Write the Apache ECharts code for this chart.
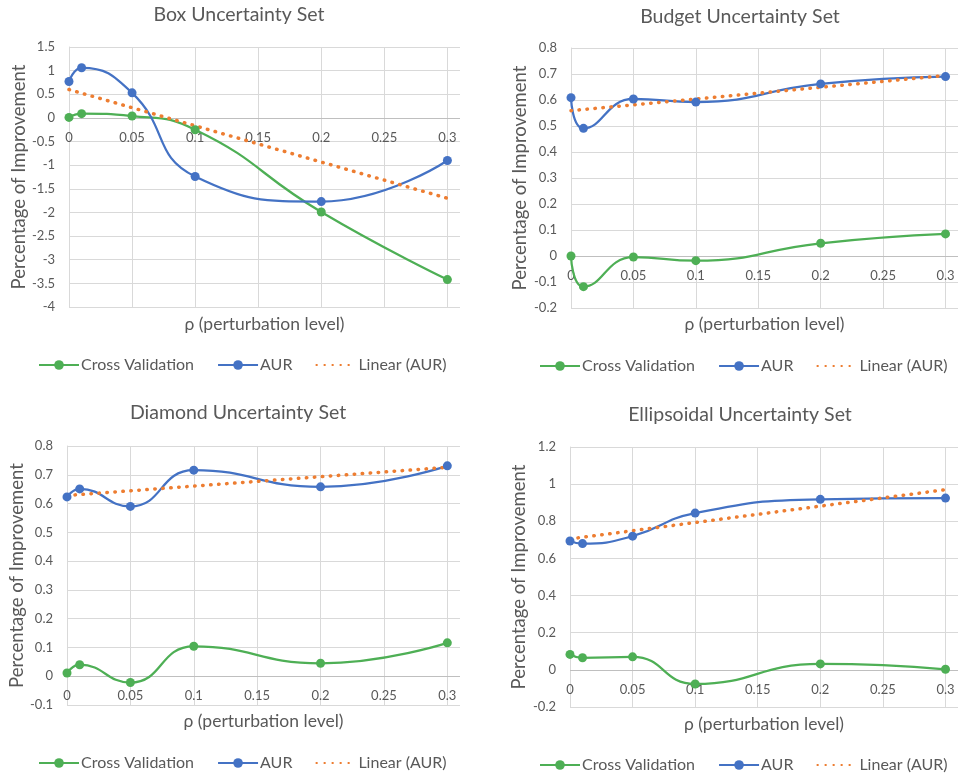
<!DOCTYPE html>
<html>
<head>
<meta charset="utf-8">
<script src="https://cdn.jsdelivr.net/npm/echarts@6/dist/echarts.min.js"></script>
<style>
  html, body { margin: 0; padding: 0; background: #ffffff; }
  #chart { width: 961px; height: 780px; }
</style>
</head>
<body>
<div id="chart"></div>
<script>
// ---- data ----
const rho = [0, 0.01, 0.05, 0.1, 0.2, 0.3];
const trendX = [0, 0.3];

const titles = ['Box Uncertainty Set', 'Budget Uncertainty Set', 'Diamond Uncertainty Set', 'Ellipsoidal Uncertainty Set'];
const seriesNames = ['Cross Validation', 'AUR', 'Linear (AUR)'];
const xName = 'ρ (perturbation level)';
const yName = 'Percentage of Improvement';

const boxCV = [0.01, 0.09, 0.04, -0.25, -1.99, -3.42];
const boxAUR = [0.77, 1.06, 0.53, -1.24, -1.77, -0.90];
const boxTrend = [0.60, -1.70];

const budgetCV = [0.0, -0.118, -0.004, -0.018, 0.049, 0.085];
const budgetAUR = [0.609, 0.491, 0.604, 0.592, 0.662, 0.690];
const budgetTrend = [0.559, 0.694];

const diamondCV = [0.011, 0.040, -0.022, 0.104, 0.045, 0.116];
const diamondAUR = [0.623, 0.651, 0.590, 0.716, 0.658, 0.731];
const diamondTrend = [0.628, 0.726];

const ellipCV = [0.083, 0.065, 0.070, -0.076, 0.032, 0.003];
const ellipAUR = [0.694, 0.680, 0.720, 0.844, 0.918, 0.925];
const ellipTrend = [0.705, 0.970];

// y axis ranges (min, max, interval)
const yMin = [-4, -0.2, -0.1, -0.2];
const yMax = [1.5, 0.8, 0.8, 1.2];
const yStep = [0.5, 0.1, 0.1, 0.2];
const xMin = 0, xMax = 0.31, xStep = 0.05;

// ---- layout ----
const panels = [
  { cv: boxCV, aur: boxAUR, trend: boxTrend, grid: { left: 69, top: 47, width: 391, height: 260 }, title: [239, 5], legend: [38, 358], labelMargin: -175.5, xGap: 8, yGap: 40 },
  { cv: budgetCV, aur: budgetAUR, trend: budgetTrend, grid: { left: 571, top: 48, width: 391, height: 260 }, title: [740, 6.5], legend: [539, 359], labelMargin: -38.5, xGap: 7, yGap: 41 },
  { cv: diamondCV, aur: diamondAUR, trend: diamondTrend, grid: { left: 67, top: 446, width: 393, height: 259 }, title: [238, 403], legend: [38, 756], labelMargin: -15.5, xGap: 7, yGap: 40 },
  { cv: ellipCV, aur: ellipAUR, trend: ellipTrend, grid: { left: 570, top: 447, width: 391, height: 260 }, title: [740, 405], legend: [539, 758], labelMargin: -23.5, xGap: 8, yGap: 41 }
];

const FONT = 'Lato, "Noto Sans", sans-serif';
const TXT = '#595959';
const GREEN = '#4EAF55';
const BLUE = '#4472C4';
const ORANGE = '#ED7D31';
const GRID = '#D9D9D9';
const ZERO = '#BFBFBF';

const option = {
  backgroundColor: '#ffffff',
  animation: false,
  textStyle: { fontFamily: FONT },
  title: [], grid: [], xAxis: [], yAxis: [], series: [], legend: []
};

function pairs(xs, ys) { return xs.map((x, i) => [x, ys[i]]); }

panels.forEach((p, i) => {
  option.title.push({
    text: titles[i], left: p.title[0], top: p.title[1], textAlign: 'center', padding: 0,
    textStyle: { color: TXT, fontSize: 19.5, fontWeight: 'normal', fontFamily: FONT }
  });
  option.grid.push(Object.assign({ containLabel: false }, p.grid));
  option.xAxis.push({
    type: 'value', gridIndex: i, min: xMin, max: xMax, interval: xStep,
    name: xName, nameLocation: 'middle', nameGap: p.xGap,
    nameTextStyle: { color: TXT, fontSize: 17.5, fontFamily: FONT, verticalAlign: 'top' },
    axisLine: { show: false, onZero: false },
    axisTick: { show: false },
    axisLabel: {
      color: TXT, fontSize: 13, fontFamily: FONT, margin: p.labelMargin,
      formatter: v => (Math.abs(v / xStep - Math.round(v / xStep)) < 1e-6 ? String(+v.toFixed(2)) : '')
    },
    splitLine: { show: true, showMaxLine: false, lineStyle: { color: GRID, width: 1 } }
  });
  option.yAxis.push({
    type: 'value', gridIndex: i, min: yMin[i], max: yMax[i], interval: yStep[i],
    name: yName, nameLocation: 'middle', nameGap: p.yGap, nameRotate: 90,
    nameTextStyle: { color: TXT, fontSize: 18.5, fontFamily: FONT },
    axisLine: { show: true, onZero: false, lineStyle: { color: GRID, width: 1 } },
    axisTick: { show: false },
    axisLabel: { color: TXT, fontSize: 13, fontFamily: FONT, margin: 14 },
    splitLine: { show: true, lineStyle: { color: GRID, width: 1 } }
  });
  option.series.push({
    name: seriesNames[0], type: 'line', xAxisIndex: i, yAxisIndex: i,
    data: pairs(rho, p.cv), smooth: 0.5, symbol: 'circle', symbolSize: 9,
    lineStyle: { color: GREEN, width: 2.25 }, itemStyle: { color: GREEN },
    markLine: {
      silent: true, symbol: ['none', 'none'], label: { show: false },
      lineStyle: { color: ZERO, width: 1, type: 'solid' },
      data: [{ yAxis: 0 }], z: 1
    }
  });
  option.series.push({
    name: seriesNames[1], type: 'line', xAxisIndex: i, yAxisIndex: i,
    data: pairs(rho, p.aur), smooth: 0.5, symbol: 'circle', symbolSize: 9,
    lineStyle: { color: BLUE, width: 2.25 }, itemStyle: { color: BLUE }
  });
  option.series.push({
    name: seriesNames[2], type: 'line', xAxisIndex: i, yAxisIndex: i,
    data: pairs(trendX, p.trend), symbol: 'none', smooth: false,
    lineStyle: { color: ORANGE, width: 3.5, type: [0.5, 7.5], cap: 'round' },
    itemStyle: { color: ORANGE }
  });
  option.legend.push({
    left: p.legend[0], top: p.legend[1] - 1, orient: 'horizontal', width: 420,
    itemWidth: 40, itemHeight: 12, itemGap: 23, padding: 0,
    selectedMode: false,
    textStyle: { color: TXT, fontSize: 16, fontFamily: FONT, padding: [0, 0, 0, -3] },
    data: [
      seriesNames[0],
      seriesNames[1],
      { name: seriesNames[2], itemStyle: { color: 'rgba(0,0,0,0)', borderColor: 'rgba(0,0,0,0)', borderWidth: 0 } }
    ]
  });
});

const chart = echarts.init(document.getElementById('chart'), null, { renderer: 'canvas' });
chart.setOption(option);
</script>
</body>
</html>
